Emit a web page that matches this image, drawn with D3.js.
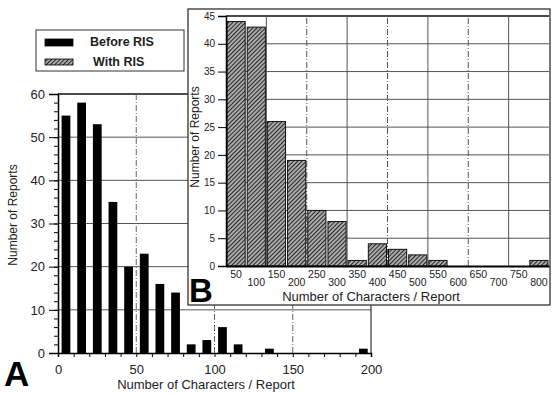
<!DOCTYPE html>
<html>
<head>
<meta charset="utf-8">
<script src="https://cdn.jsdelivr.net/npm/d3@7/dist/d3.min.js"></script>
<style>
  body { margin: 0; background: #fff; }
  svg { display: block; font-family: "Liberation Sans", Arial, sans-serif; }
</style>
</head>
<body>
<svg id="chart"></svg>
<script>
const width = 552;
const height = 394;

// Panel A data (bins of 10 characters, before RIS)
const binsA = [0, 10, 20, 30, 40, 50, 60, 70, 80, 90, 100, 110, 120, 130, 140, 150, 160, 170, 180, 190];
const countsA = [55, 58, 53, 35, 20, 23, 16, 14, 2, 3, 6, 2, 0, 1, 0, 0, 0, 0, 0, 1];
const yTicksA = [0, 10, 20, 30, 40, 50, 60];
const xTicksA = [0, 50, 100, 150, 200];

// Panel B data (bins of 50 characters, with RIS)
const binsB = ['50', '100', '150', '200', '250', '300', '350', '400', '450', '500', '550', '600', '650', '700', '750', '800'];
const countsB = [44, 43, 26, 19, 10, 8, 1, 4, 3, 2, 1, 0, 0, 0, 0, 1];
const yTicksB = [0, 5, 10, 15, 20, 25, 30, 35, 40, 45];

const legendLabels = ['Before RIS', 'With RIS'];

const svg = d3.select('#chart')
    .attr('width', width)
    .attr('height', height);

svg.append('rect').attr('width', width).attr('height', height).attr('fill', '#fff');

// hatch pattern
const defs = svg.append('defs');
const pat = defs.append('pattern')
    .attr('id', 'hatch')
    .attr('patternUnits', 'userSpaceOnUse')
    .attr('width', 3)
    .attr('height', 3)
    .attr('patternTransform', 'rotate(45)');
pat.append('rect').attr('width', 3).attr('height', 3).attr('fill', '#aaa');
pat.append('line')
    .attr('x1', 0).attr('y1', 0).attr('x2', 0).attr('y2', 3)
    .attr('stroke', '#222').attr('stroke-width', 1.9);

// ---------- Panel A ----------
const xA = d3.scaleLinear().domain([0, 200]).range([58, 371]);
const yA = d3.scaleLinear().domain([0, 60]).range([353, 94]);

const gA = svg.append('g');

// grid
gA.selectAll('.hgridA')
    .data(yTicksA.slice(1))
    .enter().append('line')
    .attr('x1', xA(0)).attr('x2', xA(200))
    .attr('y1', d => yA(d)).attr('y2', d => yA(d))
    .attr('stroke', d => d === 60 ? '#111' : '#555')
    .attr('stroke-width', d => d === 60 ? 1.5 : 1);

gA.selectAll('.vgridA')
    .data(xTicksA.slice(1))
    .enter().append('line')
    .attr('x1', d => xA(d)).attr('x2', d => xA(d))
    .attr('y1', yA(0)).attr('y2', yA(60))
    .attr('stroke', d => d === 200 ? '#111' : '#666')
    .attr('stroke-width', 1)
    .attr('stroke-dasharray', d => d === 200 ? null : '6,2,1,2');

// bars
gA.selectAll('.barA')
    .data(binsA.map((b, i) => [b, countsA[i]]))
    .enter().append('rect')
    .attr('x', d => xA(d[0] + 2.3))
    .attr('width', xA(5.6) - xA(0))
    .attr('y', d => yA(d[1]))
    .attr('height', d => yA(0) - yA(d[1]))
    .attr('fill', '#000');

// axes
const yAxisA = d3.axisLeft(yA).tickValues(yTicksA).tickSize(9).tickPadding(4);
gA.append('g')
    .attr('transform', `translate(${xA(0)},0)`)
    .call(yAxisA)
    .call(g => g.select('.domain').attr('stroke-width', 1.5))
    .call(g => g.selectAll('text').attr('font-size', 13).attr('fill', '#222'));

gA.append('g')
    .attr('transform', `translate(${xA(0)},0)`)
    .call(d3.axisLeft(yA).tickValues(d3.range(0, 61, 2)).tickSize(4).tickFormat(''))
    .call(g => g.select('.domain').remove());

gA.append('g')
    .attr('transform', `translate(0,${yA(0)})`)
    .call(d3.axisBottom(xA).tickValues(d3.range(0, 201, 10)).tickSize(4).tickFormat(''))
    .call(g => g.select('.domain').attr('stroke-width', 1.5));

gA.append('g')
    .attr('transform', `translate(0,${yA(0)})`)
    .call(d3.axisBottom(xA).tickValues(xTicksA).tickSize(0).tickPadding(12))
    .call(g => g.select('.domain').remove())
    .call(g => g.selectAll('text').attr('font-size', 13).attr('fill', '#222'));

gA.append('text')
    .attr('x', 206).attr('y', 389)
    .attr('text-anchor', 'middle')
    .attr('font-size', 13)
    .attr('fill', '#222')
    .text('Number of Characters / Report');

gA.append('text')
    .attr('transform', 'translate(17,215) rotate(-90)')
    .attr('text-anchor', 'middle')
    .attr('font-size', 12)
    .attr('fill', '#222')
    .text('Number of Reports');

gA.append('text')
    .attr('x', 4).attr('y', 386)
    .attr('font-size', 35)
    .attr('font-weight', 'bold')
    .text('A');

// legend
const leg = svg.append('g');
leg.append('rect')
    .attr('x', 36).attr('y', 30).attr('width', 148).attr('height', 41)
    .attr('fill', '#fff').attr('stroke', '#333').attr('stroke-width', 1);
leg.selectAll('.sw')
    .data(legendLabels)
    .enter().append('rect')
    .attr('x', 45).attr('y', (d, i) => 39 + i * 20)
    .attr('width', 28).attr('height', (d, i) => i === 0 ? 7 : 6)
    .attr('fill', (d, i) => i === 0 ? '#000' : 'url(#hatch)')
    .attr('stroke', '#000').attr('stroke-width', 0.8);
leg.selectAll('.lt')
    .data(legendLabels)
    .enter().append('text')
    .attr('x', (d, i) => i === 0 ? 90 : 93)
    .attr('y', (d, i) => 46 + i * 20)
    .attr('font-size', 12.5)
    .attr('font-weight', 'bold')
    .attr('fill', '#222')
    .text(d => d);

// ---------- Panel B (inset) ----------
const gB = svg.append('g');
gB.append('rect')
    .attr('x', 188).attr('y', 9).attr('width', 362).attr('height', 296)
    .attr('fill', '#fff').attr('stroke', '#333').attr('stroke-width', 1.3);

const xB = d3.scaleBand().domain(binsB).range([226, 549]).paddingInner(0.1).paddingOuter(0.05);
const yB = d3.scaleLinear().domain([0, 45]).range([266, 16]);

gB.selectAll('.hgridB')
    .data(yTicksB.slice(1))
    .enter().append('line')
    .attr('x1', 226).attr('x2', 549)
    .attr('y1', d => yB(d)).attr('y2', d => yB(d))
    .attr('stroke', d => d === 45 ? '#111' : '#555')
    .attr('stroke-width', d => d === 45 ? 1.5 : 1);

const vIdx = [2, 4, 6, 8, 10, 12, 14];
gB.selectAll('.vgridB')
    .data(vIdx)
    .enter().append('line')
    .attr('x1', d => xB(binsB[d]) - xB.step() * xB.paddingInner() / 2)
    .attr('x2', d => xB(binsB[d]) - xB.step() * xB.paddingInner() / 2)
    .attr('y1', yB(0)).attr('y2', yB(45))
    .attr('stroke', '#555')
    .attr('stroke-width', 1)
    .attr('stroke-dasharray', (d, i) => i % 2 === 0 ? null : '6,2,1,2');

gB.selectAll('.barB')
    .data(binsB.map((b, i) => [b, countsB[i]]))
    .enter().append('rect')
    .attr('x', d => xB(d[0]))
    .attr('width', xB.bandwidth())
    .attr('y', d => yB(d[1]))
    .attr('height', d => yB(0) - yB(d[1]))
    .attr('fill', 'url(#hatch)')
    .attr('stroke', '#111')
    .attr('stroke-width', 1);

gB.append('g')
    .attr('transform', 'translate(226,0)')
    .call(d3.axisLeft(yB).tickValues(yTicksB).tickSize(8).tickPadding(3))
    .call(g => g.select('.domain').attr('stroke-width', 1.5))
    .call(g => g.selectAll('text').attr('font-size', 10).attr('fill', '#222'));

gB.append('g')
    .attr('transform', `translate(0,${yB(0)})`)
    .call(d3.axisBottom(xB).tickSize(0).tickPadding(5))
    .call(g => g.select('.domain').attr('stroke-width', 2))
    .call(g => g.selectAll('text')
        .attr('font-size', 10.5)
        .attr('fill', '#222')
        .attr('dy', (d, i) => i % 2 === 0 ? '0.71em' : '1.4em'));

gB.append('text')
    .attr('x', 371).attr('y', 301)
    .attr('text-anchor', 'middle')
    .attr('font-size', 13)
    .attr('fill', '#222')
    .text('Number of Characters / Report');

gB.append('text')
    .attr('transform', 'translate(199,137) rotate(-90)')
    .attr('text-anchor', 'middle')
    .attr('font-size', 12)
    .attr('fill', '#222')
    .text('Number of Reports');

gB.append('text')
    .attr('x', 189).attr('y', 302)
    .attr('font-size', 33)
    .attr('font-weight', 'bold')
    .text('B');
</script>
</body>
</html>
